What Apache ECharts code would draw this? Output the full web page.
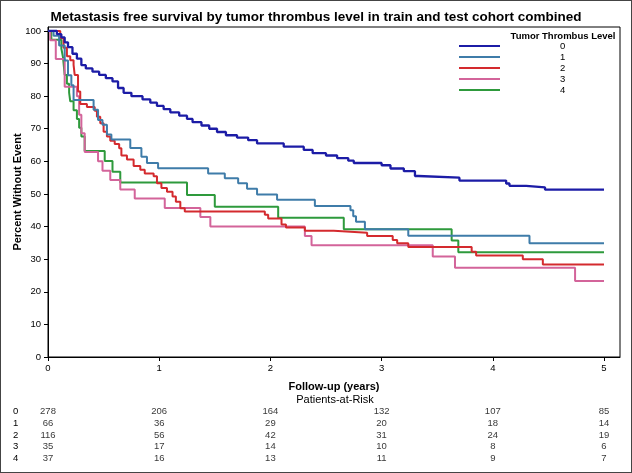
<!DOCTYPE html>
<html>
<head>
<meta charset="utf-8">
<script src="https://cdn.jsdelivr.net/npm/echarts@6/dist/echarts.min.js"></script>
<style>
  html, body { margin: 0; padding: 0; background: #fff; }
  #wrap { position: relative; width: 632px; height: 473px; }
  #chart { position: absolute; left: 0; top: 0; width: 632px; height: 473px; }
  #frame { position: absolute; left: 0; top: 0; width: 632px; height: 473px; box-sizing: border-box; border: 1px solid #444; pointer-events: none; }
</style>
</head>
<body>
<div id="wrap"><div id="chart"></div><div id="frame"></div></div>
<script>
// ---- data ----
const groupNames = ['0', '1', '2', '3', '4'];
const colors = ['#1C1CA6', '#3F7CA9', '#D42A2E', '#D3649A', '#2E9A3C'];

// Kaplan-Meier step points (time in years, percent without event after the step)
const t0 = [0, 0.08, 0.12, 0.15, 0.18, 0.22, 0.26, 0.30, 0.34, 0.40, 0.46, 0.52, 0.58, 0.63, 0.68, 0.75, 0.85, 0.92, 0.98, 1.04, 1.10, 1.18, 1.25, 1.30, 1.38, 1.45, 1.52, 1.60, 1.70, 1.80, 1.88, 2.12, 2.30, 2.38, 2.50, 2.60, 2.70, 2.75, 3.00, 3.08, 3.20, 3.30, 3.33, 3.70, 4.12, 4.15, 4.30, 4.47, 5.0];
const s0 = [100, 99, 98, 96.5, 95, 93, 91.5, 89.5, 88.5, 87.5, 86.5, 85.5, 84.5, 82.5, 81, 80, 79, 78, 77, 76, 75, 74, 73, 72, 71, 70, 69, 68, 67.3, 66.5, 65.5, 64.5, 63.5, 62.5, 61.8, 61, 60.2, 59.5, 58.8, 57.8, 57, 55.5, 55, 54.1, 53.2, 52.5, 52, 51.3, 51.3];

const t1 = [0, 0.05, 0.10, 0.15, 0.18, 0.21, 0.23, 0.41, 0.45, 0.49, 0.53, 0.57, 0.74, 0.84, 0.89, 0.99, 1.44, 1.59, 1.71, 1.79, 1.88, 2.06, 2.40, 2.72, 2.745, 2.77, 2.85, 3.24, 4.33, 5.0];
const s1 = [100, 98.5, 95.5, 90.9, 86.4, 83.3, 78.8, 75.8, 72.7, 71.2, 68.2, 66.7, 64.1, 61.4, 59.5, 57.9, 56.3, 54.8, 53.3, 51.6, 49.8, 48.2, 46.3, 45.0, 43.2, 41.5, 39.2, 37.2, 34.9, 34.9];

const t2 = [0, 0.11, 0.14, 0.17, 0.20, 0.23, 0.24, 0.27, 0.29, 0.35, 0.42, 0.44, 0.47, 0.50, 0.53, 0.56, 0.60, 0.64, 0.66, 0.71, 0.77, 0.83, 0.87, 0.95, 0.98, 1.02, 1.07, 1.12, 1.15, 1.19, 1.23, 1.95, 1.98, 2.10, 2.14, 2.31, 2.57, 2.87, 3.10, 3.14, 3.24, 3.81, 3.85, 4.27, 4.45, 5.0];
const s2 = [100, 97.8, 94.8, 92.2, 91, 89.6, 86.5, 81.4, 77.6, 76.7, 75.5, 73.7, 71.7, 69.1, 67.6, 66.3, 65.3, 64, 61.8, 60.6, 58.6, 57.4, 56.3, 55.4, 53.3, 51.8, 50.7, 49.2, 47.6, 45.6, 44.6, 43.6, 42.5, 40.6, 39.7, 38.7, 38.1, 37.1, 35.9, 34.9, 33.7, 32.3, 31.1, 30.0, 28.4, 28.4];

const t3 = [0, 0.02, 0.07, 0.15, 0.26, 0.28, 0.30, 0.33, 0.45, 0.49, 0.56, 0.65, 0.78, 1.05, 1.37, 1.46, 2.31, 2.37, 3.46, 3.66, 4.74, 5.0];
const s3 = [100, 97.1, 91.4, 82.9, 80.0, 74.3, 68.6, 62.9, 60.0, 57.1, 54.3, 51.4, 48.6, 45.7, 42.9, 40.0, 37.1, 34.3, 30.8, 27.4, 23.3, 23.3];

const t4 = [0, 0.03, 0.12, 0.135, 0.15, 0.17, 0.19, 0.20, 0.23, 0.26, 0.28, 0.30, 0.33, 0.51, 0.58, 0.65, 1.25, 1.50, 2.07, 2.66, 3.63, 3.69, 5.0];
const s4 = [100, 97.3, 94.6, 91.9, 86.5, 83.8, 81.1, 78.4, 75.7, 73.0, 70.3, 67.6, 63.2, 60.1, 56.8, 53.5, 49.7, 46.1, 42.7, 39.2, 35.7, 32.1, 32.1];

// Patients-at-risk table
const riskTimes = [0, 1, 2, 3, 4, 5];
const risk0 = [278, 206, 164, 132, 107, 85];
const risk1 = [66, 36, 29, 20, 18, 14];
const risk2 = [116, 56, 42, 31, 24, 19];
const risk3 = [35, 17, 14, 10, 8, 6];
const risk4 = [37, 16, 13, 11, 9, 7];

const xTicks = [0, 1, 2, 3, 4, 5];
const yTicks = [0, 10, 20, 30, 40, 50, 60, 70, 80, 90, 100];

// ---- build ----
const curves = [[t0, s0], [t1, s1], [t2, s2], [t3, s3], [t4, s4]];
const risks = [risk0, risk1, risk2, risk3, risk4];
const FONT = 'Liberation Sans, Arial, sans-serif';
const X_MAX = 5.144, Y_MAX = 101.2;

const lineSeries = curves.map(([t, s], g) => ({
  name: groupNames[g],
  type: 'line',
  step: 'end',
  symbol: 'none',
  xAxisIndex: 0, yAxisIndex: 0,
  lineStyle: { color: colors[g], width: g === 0 ? 2.3 : 2 },
  itemStyle: { color: colors[g] },
  emphasis: { disabled: true },
  z: 10 - g,
  data: t.map((x, i) => [x, s[i]])
}));

const riskData = [];
risks.forEach((r, g) => r.forEach((v, i) => riskData.push([riskTimes[i], groupNames[g], v])));

const option = {
  animation: false,
  backgroundColor: '#fff',
  textStyle: { fontFamily: FONT, color: '#000' },
  color: colors,
  title: [
    { text: 'Metastasis free survival by tumor thrombus level in train and test cohort combined',
      left: 316, textAlign: 'center', top: 10, padding: 0,
      textStyle: { fontFamily: FONT, fontSize: 13.5, fontWeight: 'bold', color: '#000' } },
    { text: 'Tumor Thrombus Level', left: 563, textAlign: 'center', top: 31, padding: 0,
      textStyle: { fontFamily: FONT, fontSize: 9.5, fontWeight: 'bold', color: '#000' } },
    { text: 'Patients-at-Risk', left: 335, textAlign: 'center', top: 394, padding: 0,
      textStyle: { fontFamily: FONT, fontSize: 11, fontWeight: 'normal', color: '#000' } }
  ],
  legend: {
    orient: 'vertical', left: 459, top: 40.5, padding: 0,
    itemWidth: 41, itemHeight: 2, itemGap: 0,
    icon: 'rect',
    selectedMode: false,
    data: groupNames,
    textStyle: { fontFamily: FONT, fontSize: 9.5, color: '#000', padding: [0, 0, 0, 55], lineHeight: 11 }
  },
  grid: [
    { left: 48, right: 12, top: 27, bottom: 116, show: true, borderColor: '#000', borderWidth: 1,
      containLabel: false, outerBoundsMode: 'none' },
    { left: 48, right: 12, top: 406, height: 58, show: false, containLabel: false, outerBoundsMode: 'none' }
  ],
  xAxis: [
    { type: 'value', gridIndex: 0, min: 0, max: X_MAX,
      name: 'Follow-up (years)', nameLocation: 'middle', nameGap: 24, nameMoveOverlap: false,
      nameTextStyle: { fontFamily: FONT, fontSize: 11, fontWeight: 'bold', color: '#000' },
      axisLine: { show: true, lineStyle: { color: '#000', width: 1 } },
      axisTick: { show: true, length: 4, lineStyle: { color: '#000' }, customValues: xTicks },
      axisLabel: { fontSize: 9.5, color: '#000', margin: 6, customValues: xTicks, formatter: v => String(v) },
      splitLine: { show: false } },
    { type: 'value', gridIndex: 1, min: 0, max: X_MAX, show: false }
  ],
  yAxis: [
    { type: 'value', gridIndex: 0, min: 0, max: Y_MAX,
      name: 'Percent Without Event', nameLocation: 'middle', nameGap: 25, nameMoveOverlap: false,
      nameTextStyle: { fontFamily: FONT, fontSize: 11, fontWeight: 'bold', color: '#000' },
      axisLine: { show: true, lineStyle: { color: '#000', width: 1 } },
      axisTick: { show: true, length: 4, lineStyle: { color: '#000' }, customValues: yTicks },
      axisLabel: { fontSize: 9.5, color: '#000', margin: 7, customValues: yTicks, formatter: v => String(v) },
      splitLine: { show: false } },
    { type: 'category', gridIndex: 1, data: groupNames, inverse: true,
      axisLine: { show: false }, axisTick: { show: false }, splitLine: { show: false },
      axisLabel: { align: 'left', margin: 35, interval: 0, fontSize: 9.5, color: '#000' } }
  ],
  series: lineSeries.concat([{
    type: 'scatter', xAxisIndex: 1, yAxisIndex: 1,
    symbolSize: 0.1, itemStyle: { color: 'rgba(0,0,0,0)' },
    emphasis: { disabled: true },
    label: { show: true, position: 'inside', fontSize: 9.5, color: '#000', fontFamily: FONT,
      formatter: p => String(p.value[2]) },
    data: riskData
  }])
};

const chart = echarts.init(document.getElementById('chart'), null, { renderer: 'canvas' });
chart.setOption(option);
</script>
</body>
</html>
